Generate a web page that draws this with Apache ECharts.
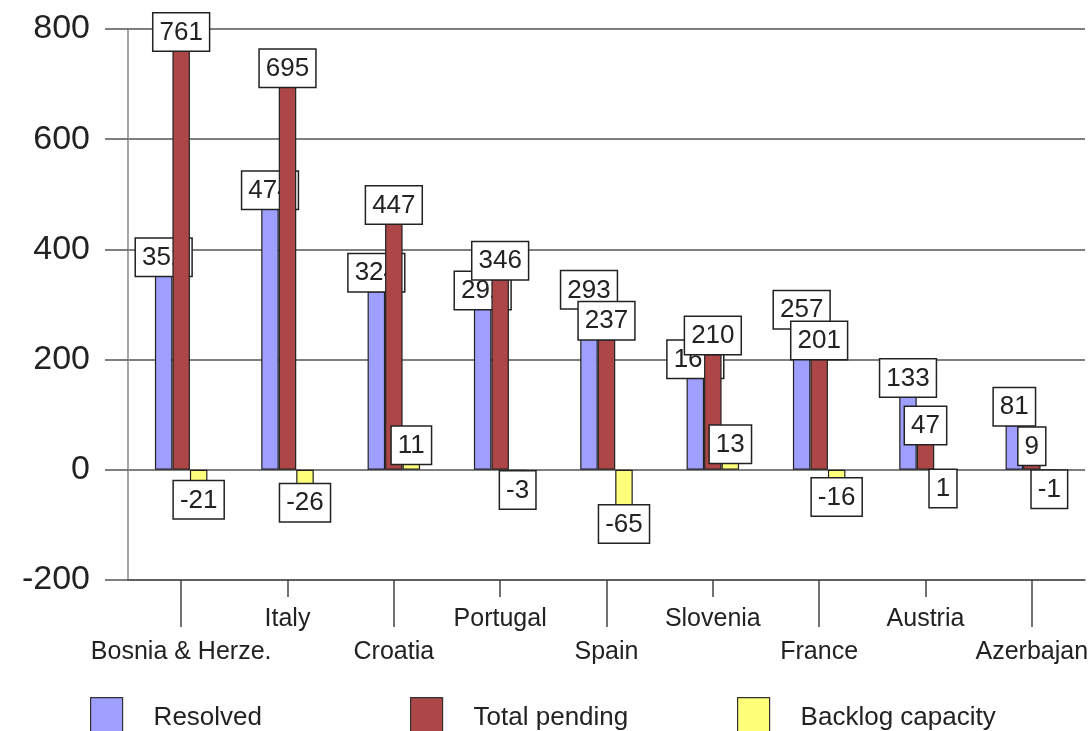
<!DOCTYPE html>
<html>
<head>
<meta charset="utf-8">
<style>
  html, body { margin: 0; padding: 0; background: #fff; }
  #chart { width: 1091px; height: 731px; }
</style>
<script src="https://cdn.jsdelivr.net/npm/echarts@6/dist/echarts.min.js"></script>
</head>
<body>
<div id="chart"></div>
<script>
// Case statistics per country
const categories = ['Bosnia & Herze.', 'Italy', 'Croatia', 'Portugal', 'Spain', 'Slovenia', 'France', 'Austria', 'Azerbajan'];
const resolved = [352, 474, 324, 292, 293, 167, 257, 133, 81];
const totalPending = [761, 695, 447, 346, 237, 210, 201, 47, 9];
const backlogCapacity = [-21, -26, 11, -3, -65, 13, -16, 1, -1];
const yTicks = { min: -200, max: 800, step: 200 };

const FONT = 'Liberation Sans, Arial, sans-serif';
const evenIdx = (i) => i % 2 === 0;
const oddIdx = (i) => i % 2 === 1;

// boxed value labels sitting on the end of each bar
const boxLabel = {
  show: true,
  position: 'outside',
  distance: 0,
  fontFamily: FONT,
  fontSize: 26,
  lineHeight: 26,
  color: '#222',
  backgroundColor: '#fff',
  borderColor: '#222',
  borderWidth: 1.5,
  padding: [6, 6, 5, 6]
};

function barSeries(name, data, color, z) {
  return {
    name, type: 'bar', data, z,
    barWidth: 17.5,
    barGap: '0%',
    itemStyle: { color, borderColor: '#222', borderWidth: 1.2 },
    label: boxLabel,
    emphasis: { disabled: true }
  };
}

function legendAt(name, left) {
  return {
    data: [name],
    left, top: 697,
    padding: 0,
    icon: 'rect',
    itemWidth: 32, itemHeight: 40,
    itemStyle: { borderColor: '#333', borderWidth: 1.2 },
    textStyle: { fontFamily: FONT, fontSize: 26, color: '#222', padding: [0, 0, 0, 26] },
    selectedMode: false
  };
}

const xBase = {
  type: 'category',
  data: categories,
  position: 'bottom'
};

const chart = echarts.init(document.getElementById('chart'), null, { renderer: 'canvas' });
chart.setOption({
  animation: false,
  backgroundColor: '#fff',
  grid: { left: 128, right: 4, top: 29, bottom: 151, containLabel: false },
  legend: [
    legendAt('Resolved', 90),
    legendAt('Total pending', 410),
    legendAt('Backlog capacity', 737)
  ],
  xAxis: [
    // long ticks and lower row of names
    Object.assign({}, xBase, {
      axisLine: { show: true, onZero: false, lineStyle: { color: '#555', width: 1.5 } },
      axisTick: { show: true, alignWithLabel: true, interval: evenIdx, length: 47, lineStyle: { color: '#444', width: 1.5 } },
      axisLabel: { interval: evenIdx, margin: 60, fontFamily: FONT, fontSize: 25, color: '#222' }
    }),
    // short ticks and upper row of names
    Object.assign({}, xBase, {
      axisLine: { show: false, onZero: false },
      axisTick: { show: true, alignWithLabel: true, interval: oddIdx, length: 17, lineStyle: { color: '#444', width: 1.5 } },
      axisLabel: { interval: oddIdx, margin: 27, fontFamily: FONT, fontSize: 25, color: '#222' }
    })
  ],
  yAxis: {
    type: 'value',
    min: yTicks.min, max: yTicks.max, interval: yTicks.step,
    axisLine: { show: true, lineStyle: { color: '#888', width: 1.5 } },
    axisTick: { show: true, length: 23, lineStyle: { color: '#555', width: 1.5 } },
    axisLabel: { margin: 38, fontFamily: FONT, fontSize: 34, color: '#222' },
    splitLine: { show: true, lineStyle: { color: '#555', width: 1.5 } }
  },
  series: [
    barSeries('Resolved', resolved, '#9f9fff', 2),
    barSeries('Total pending', totalPending, '#ad4646', 3),
    barSeries('Backlog capacity', backlogCapacity, '#ffff7a', 4)
  ]
});
</script>
</body>
</html>
